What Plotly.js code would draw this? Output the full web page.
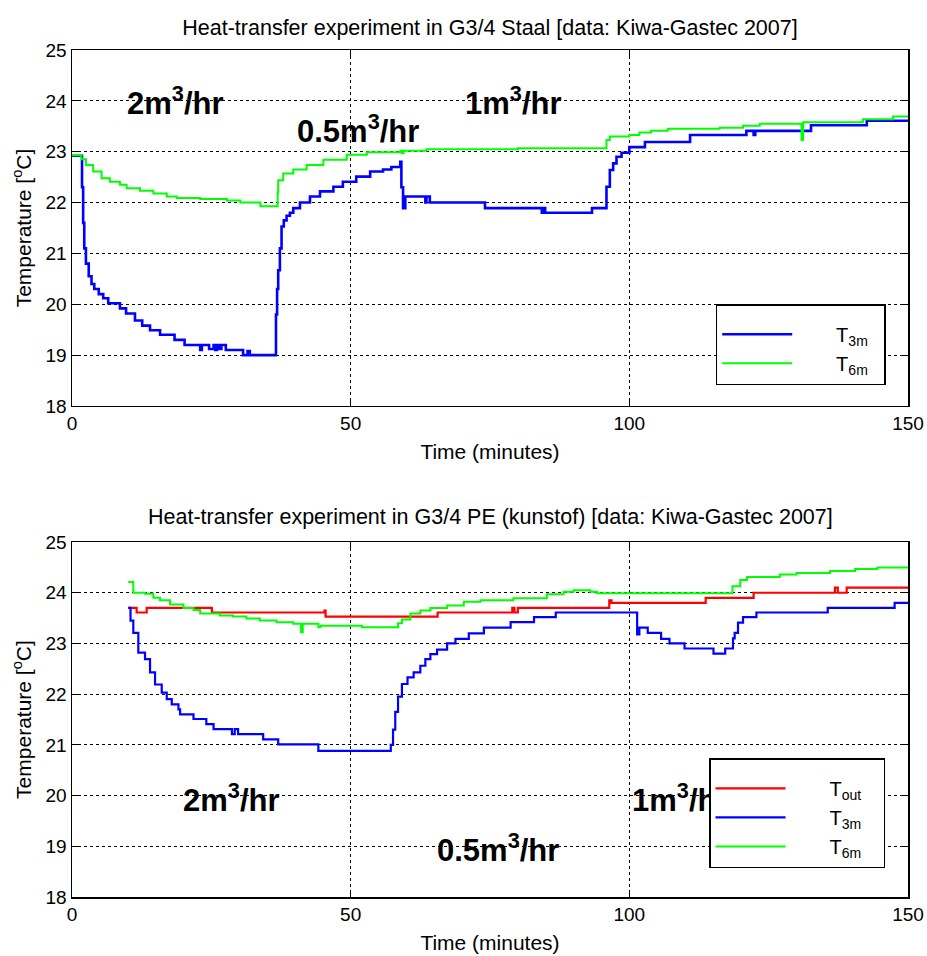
<!DOCTYPE html>
<html>
<head>
<meta charset="utf-8">
<script src="https://cdn.plot.ly/plotly-3.0.1.min.js"></script>
<style>html,body{margin:0;padding:0;background:#fff;}#chart{width:927px;height:956px;}</style>
</head>
<body>
<div id="chart"></div>
<script>
// ---------- Data (time in minutes, temperature in degC) ----------
// Top panel: G3/4 Staal
const staalT3mTime = [0, 1.8, 2.0, 2.2, 2.5, 3.0, 3.5, 4.0, 4.8, 5.6, 6.5, 8.6, 9.7, 11.3, 12.6, 14.0, 15.8, 18.4, 20.2, 23.0, 23.3, 24.6, 25.4, 25.7, 26.0, 26.4, 26.8, 27.6, 30.7, 31.5, 31.9, 36.4, 36.6, 36.8, 37.0, 37.3, 37.6, 38.0, 38.5, 39.1, 39.7, 40.9, 42.7, 44.5, 46.9, 48.6, 51.0, 53.5, 55.8, 57.3, 58.9, 59.1, 59.4, 59.8, 63.4, 63.6, 64.2, 74.1, 84.3, 84.6, 84.9, 93.3, 95.9, 96.5, 97.1, 97.7, 98.6, 100.0, 102.8, 110.9, 121.0, 122.3, 122.6, 132.6, 142.6, 150];
const staalT3mTemp = [22.92, 22.3, 21.6, 21.1, 20.8, 20.55, 20.4, 20.3, 20.2, 20.12, 20.02, 19.92, 19.82, 19.68, 19.58, 19.49, 19.40, 19.30, 19.20, 19.10, 19.20, 19.12, 19.20, 19.10, 19.20, 19.12, 19.20, 19.10, 19.00, 19.08, 19.00, 19.00, 19.8, 20.3, 20.67, 21.1, 21.53, 21.65, 21.74, 21.80, 21.89, 22.00, 22.12, 22.22, 22.31, 22.41, 22.51, 22.61, 22.65, 22.70, 22.80, 22.30, 21.89, 22.12, 22.00, 22.12, 22.00, 21.89, 21.80, 21.89, 21.80, 21.89, 22.31, 22.64, 22.77, 22.90, 22.98, 23.09, 23.19, 23.33, 23.41, 23.33, 23.41, 23.52, 23.61, 23.61];
const staalT6mTime = [0, 1.7, 2.5, 3.8, 5.3, 6.8, 8.6, 9.8, 12.2, 14.6, 17.0, 18.8, 23.0, 27.8, 30.2, 33.8, 36.4, 36.9, 37.0, 37.9, 39.7, 42.1, 45.1, 49.3, 52.9, 58.9, 59.2, 59.5, 63.6, 80.0, 95.6, 95.9, 96.5, 100.0, 101.8, 103.9, 106.9, 116.2, 120.4, 123.4, 130.6, 130.9, 131.2, 141.9, 147.3, 150];
const staalT6mTemp = [22.93, 22.85, 22.74, 22.61, 22.48, 22.41, 22.35, 22.28, 22.23, 22.18, 22.12, 22.09, 22.07, 22.04, 22.00, 21.93, 21.93, 22.20, 22.44, 22.57, 22.65, 22.74, 22.84, 22.94, 22.99, 23.02, 22.97, 23.02, 23.05, 23.07, 23.07, 23.23, 23.30, 23.33, 23.38, 23.41, 23.45, 23.47, 23.51, 23.55, 23.55, 23.23, 23.58, 23.64, 23.69, 23.69];

// Bottom panel: G3/4 PE (kunstof)
const peToutTime = [10.1, 11.6, 13.4, 25.1, 45.3, 45.5, 65.6, 79.0, 79.4, 80.0, 96.4, 96.8, 113.7, 122.3, 136.9, 137.4, 139.0, 150];
const peToutTemp = [23.70, 23.61, 23.70, 23.61, 23.65, 23.53, 23.61, 23.70, 23.61, 23.70, 23.85, 23.80, 23.90, 24.00, 24.10, 24.00, 24.10, 24.10];
const peT3mTime = [10.1, 10.5, 11.0, 11.9, 13.1, 14.0, 14.9, 16.1, 17.0, 17.9, 19.1, 19.4, 21.8, 24.1, 25.4, 28.7, 29.2, 29.8, 34.3, 37.0, 44.2, 57.2, 57.6, 58.0, 58.5, 59.2, 60.2, 61.3, 62.5, 63.4, 64.3, 65.5, 67.3, 68.8, 71.2, 73.9, 78.7, 82.9, 86.8, 101.2, 101.4, 101.8, 103.3, 105.7, 107.2, 109.9, 115.1, 117.2, 118.6, 118.9, 119.5, 120.4, 122.8, 135.6, 147.6, 150];
const peT3mTemp = [23.70, 23.45, 23.21, 22.82, 22.69, 22.43, 22.19, 22.03, 21.90, 21.80, 21.70, 21.60, 21.51, 21.41, 21.31, 21.21, 21.31, 21.21, 21.11, 21.01, 20.88, 21.00, 21.30, 21.65, 21.95, 22.20, 22.33, 22.43, 22.56, 22.69, 22.79, 22.88, 23.00, 23.09, 23.20, 23.31, 23.42, 23.52, 23.61, 23.61, 23.18, 23.31, 23.21, 23.09, 23.00, 22.90, 22.80, 22.90, 23.10, 23.21, 23.41, 23.52, 23.61, 23.70, 23.80, 23.80];
const peT6mTime = [10.1, 11.0, 13.1, 14.6, 15.8, 17.6, 20.0, 21.8, 23.0, 26.5, 28.9, 31.3, 33.7, 36.7, 39.7, 41.1, 41.4, 44.2, 44.6, 52.0, 57.5, 58.5, 59.2, 60.7, 62.5, 64.3, 67.3, 70.3, 73.3, 79.2, 85.2, 88.2, 90.0, 93.0, 94.2, 118.1, 118.5, 119.9, 121.1, 127.0, 130.0, 136.0, 140.5, 144.5, 150];
const peT6mTemp = [24.21, 24.00, 23.98, 23.90, 23.85, 23.77, 23.70, 23.66, 23.59, 23.55, 23.53, 23.49, 23.45, 23.42, 23.39, 23.22, 23.39, 23.32, 23.35, 23.32, 23.32, 23.40, 23.47, 23.59, 23.65, 23.70, 23.75, 23.82, 23.85, 23.89, 23.97, 24.02, 24.05, 24.02, 23.99, 23.99, 24.13, 24.25, 24.31, 24.36, 24.39, 24.43, 24.47, 24.50, 24.50];

// Labels
const xTicks = [0, 50, 100, 150];
const yTicks = [18, 19, 20, 21, 22, 23, 24, 25];
const topTitle = 'Heat-transfer experiment in G3/4 Staal [data: Kiwa-Gastec 2007]';
const bottomTitle = 'Heat-transfer experiment in G3/4 PE (kunstof) [data: Kiwa-Gastec 2007]';
const topFlowLabels = [
  {x: 18.6, y: 24.0, text: '2m<sup>3</sup>/hr'},
  {x: 51.4, y: 23.45, text: '0.5m<sup>3</sup>/hr'},
  {x: 79.2, y: 24.0, text: '1m<sup>3</sup>/hr'}
];
const bottomFlowLabels = [
  {x: 28.7, y: 19.95, text: '2m<sup>3</sup>/hr'},
  {x: 76.4, y: 18.97, text: '0.5m<sup>3</sup>/hr'},
  {x: 109.2, y: 19.95, text: '1m<sup>3</sup>/hr'}
];

// ---------- Styling ----------
const FONT = 'Liberation Sans, Arial, Helvetica, sans-serif';
const BLUE = '#0000ff', GREEN = '#00ff00', RED = '#ff0000';
const PAD = '\u00a0\u00a0\u00a0\u00a0\u00a0\u00a0\u00a0';

function line(x, y, name, color, w, xa, ya, lg, tail) {
  return {x: x, y: y, name: PAD + name + tail, type: 'scatter', mode: 'lines',
          line: {color: color, width: w, shape: 'hv'},
          xaxis: xa, yaxis: ya, legend: lg, hoverinfo: 'skip'};
}

const traces = [
  line(staalT3mTime, staalT3mTemp, 'T<sub>3m</sub>', BLUE, 2.6, 'x', 'y', 'legend', '\u00a0\u00a0'),
  line(staalT6mTime, staalT6mTemp, 'T<sub>6m</sub>', GREEN, 2, 'x', 'y', 'legend', '\u00a0\u00a0'),
  line(peToutTime, peToutTemp, 'T<sub>out</sub>', RED, 2.2, 'x2', 'y2', 'legend2', '\u00a0\u00a0\u00a0'),
  line(peT3mTime, peT3mTemp, 'T<sub>3m</sub>', BLUE, 2.2, 'x2', 'y2', 'legend2', '\u00a0\u00a0\u00a0'),
  line(peT6mTime, peT6mTemp, 'T<sub>6m</sub>', GREEN, 2, 'x2', 'y2', 'legend2', '\u00a0\u00a0\u00a0')
];

function xAxis(anchor) {
  return {anchor: anchor, range: [0, 150], tickvals: xTicks, ticks: 'inside', ticklen: 7,
          tickcolor: '#000', showline: true, linecolor: '#000', linewidth: 1.5, mirror: 'ticks',
          showgrid: true, gridcolor: '#000', griddash: 'dot', gridwidth: 1, zeroline: false,
          tickfont: {family: FONT, size: 19, color: '#000'},
          title: {text: 'Time (minutes)', font: {family: FONT, size: 21, color: '#000'}, standoff: 11}};
}
function yAxis(anchor, domain) {
  return {anchor: anchor, domain: domain, range: [18, 25], tickvals: yTicks, ticks: 'inside', ticklen: 7,
          tickcolor: '#000', showline: true, linecolor: '#000', linewidth: 1.5, mirror: 'ticks',
          showgrid: true, gridcolor: '#000', griddash: 'dot', gridwidth: 1, zeroline: false,
          tickfont: {family: FONT, size: 19, color: '#000'},
          title: {text: 'Temperature [<sup>o</sup>C]', font: {family: FONT, size: 21, color: '#000'}, standoff: 8}};
}

function flowAnn(l, xr, yr) {
  return {x: l.x, y: l.y, xref: xr, yref: yr, text: l.text, showarrow: false,
          font: {family: FONT, size: 31, color: '#000', weight: 'bold'}};
}

const annotations = [
  {text: bottomTitle, xref: 'paper', yref: 'paper', x: 0.5, y: 0.4486, xanchor: 'center', yanchor: 'middle',
   showarrow: false, font: {family: FONT, size: 21.5, color: '#000'}}
].concat(topFlowLabels.map(l => flowAnn(l, 'x', 'y')))
 .concat(bottomFlowLabels.map(l => flowAnn(l, 'x2', 'y2')));

const legendStyle = {bgcolor: '#fff', bordercolor: '#000', borderwidth: 1.5,
  font: {family: FONT, size: 20, color: '#000'}, itemwidth: 70, tracegroupgap: 0,
  title: {text: '\u00a0', font: {family: FONT, size: 7}},
  xanchor: 'left', yanchor: 'top', xref: 'paper', yref: 'paper'};

const layout = {
  width: 927, height: 956,
  margin: {l: 72, r: 19, t: 50, b: 59},
  paper_bgcolor: '#fff', plot_bgcolor: '#fff',
  showlegend: true,
  title: {text: topTitle, x: 0.5, xref: 'paper', xanchor: 'center', y: 1 - 27 / 956, yanchor: 'middle',
          font: {family: FONT, size: 21.5, color: '#000'}},
  xaxis: xAxis('y'),
  yaxis: yAxis('x', [0.5797, 1]),
  xaxis2: xAxis('y2'),
  yaxis2: yAxis('x2', [0, 0.4191]),
  legend: Object.assign({}, legendStyle, {x: 0.770, y: 0.700}),
  legend2: Object.assign({}, legendStyle, {x: 0.762, y: 0.1637}),
  annotations: annotations
};

Plotly.newPlot('chart', traces, layout, {displayModeBar: false, staticPlot: true}).then(function (gd) {
  // As in the original figure, the legend boxes sit above the flow-rate labels.
  gd.querySelectorAll('g.legend, g.legend2').forEach(function (g) {
    g.parentNode.appendChild(g);
  });
});
</script>
</body>
</html>
